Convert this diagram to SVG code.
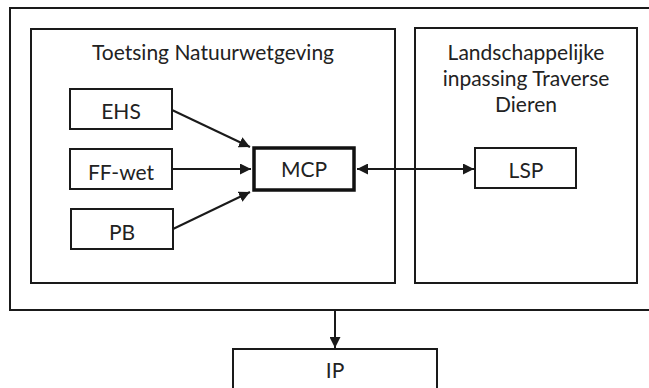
<svg xmlns="http://www.w3.org/2000/svg" width="649" height="388" viewBox="0 0 649 388">
<style>
.box{fill:#fff;stroke:#1a1a1a;stroke-width:2}
.frame{fill:none;stroke:#1a1a1a;stroke-width:2}
.bold{fill:#fff;stroke:#111;stroke-width:3.5}
.t{font-family:Lato,"Open Sans",sans-serif;font-size:21px;fill:#222;text-anchor:middle}
.c{stroke:#1a1a1a;stroke-width:2;fill:none}
</style>
<defs>
<marker id="ah" viewBox="0 0 10 10" refX="10" refY="5" markerWidth="5.5" markerHeight="5.5" orient="auto-start-reverse" markerUnits="strokeWidth">
<path d="M0,0 L10,5 L0,10 z" fill="#1a1a1a"/>
</marker>
</defs>
<rect width="649" height="388" fill="#fff"/>
<g id="outer"><rect class="frame" x="10" y="8" width="645" height="302"/></g>
<g id="natuur"><rect class="frame" x="31" y="29" width="364" height="254"/><text class="t" x="213" y="60">Toetsing Natuurwetgeving</text></g>
<g id="landschap"><rect class="frame" x="415" y="28" width="222" height="255"/>
<text class="t" x="526" y="60">Landschappelijke</text>
<text class="t" x="526" y="86">inpassing Traverse</text>
<text class="t" x="526" y="112">Dieren</text></g>
<g id="ehs"><rect class="box" x="70" y="89" width="102" height="40"/><text class="t" x="121" y="119">EHS</text></g>
<g id="ffwet"><rect class="box" x="70" y="149" width="102" height="40"/><text class="t" x="121" y="180">FF-wet</text></g>
<g id="pb"><rect class="box" x="71" y="209" width="102" height="40"/><text class="t" x="122" y="240">PB</text></g>
<g id="mcp"><rect class="bold" x="254" y="148" width="100" height="42"/><text class="t" x="304" y="177">MCP</text></g>
<g id="lsp"><rect class="box" x="475" y="148" width="101" height="40"/><text class="t" x="526" y="178">LSP</text></g>
<g id="ip"><rect class="box" x="233" y="349" width="204" height="50"/><text class="t" x="335" y="378">IP</text></g>
<g id="connectors">
<line class="c" x1="172" y1="110" x2="250" y2="147" marker-end="url(#ah)"/>
<line class="c" x1="173" y1="169" x2="251" y2="169" marker-end="url(#ah)"/>
<line class="c" x1="173" y1="229" x2="250" y2="192" marker-end="url(#ah)"/>
<line class="c" x1="357" y1="169" x2="474" y2="169" marker-start="url(#ah)" marker-end="url(#ah)"/>
<line class="c" x1="335" y1="310" x2="335" y2="348" marker-end="url(#ah)"/>
</g>
</svg>
